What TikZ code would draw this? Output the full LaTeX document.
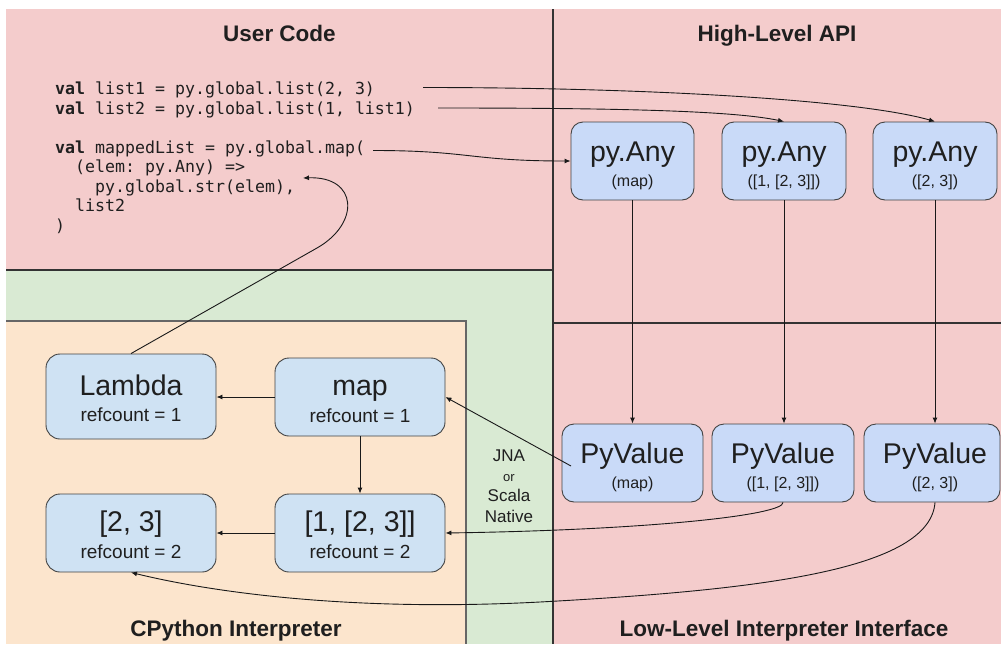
\documentclass[tikz,border=0pt]{standalone}
\usepackage{fontspec}
\setmainfont{Liberation Sans}
\newfontfamily\codefont{DejaVu Sans Mono}
\usetikzlibrary{arrows.meta,calc}
\definecolor{pinkc}{HTML}{F4CCCC}
\definecolor{greenc}{HTML}{D9EAD3}
\definecolor{orangec}{HTML}{FCE5CD}
\definecolor{pyblue}{HTML}{C9DAF8}
\definecolor{cblue}{HTML}{CFE2F3}
\definecolor{boxline}{HTML}{434343}
\definecolor{divline}{HTML}{333333}
\definecolor{txt}{HTML}{1F1F1F}
\tikzset{
  pybox/.style={draw=boxline, fill=pyblue, line width=0.9pt, rounded corners=12pt,
    minimum height=78pt, inner sep=0pt},
  cbox/.style={draw=boxline, fill=cblue, line width=0.9pt, rounded corners=14pt,
    minimum width=170pt, minimum height=78pt, inner sep=0pt},
  bigtxt/.style={anchor=base, inner sep=0pt, text=txt, font=\fontsize{28.5}{30}\selectfont},
  pysub/.style={anchor=base, inner sep=0pt, text=txt, font=\fontsize{16}{18}\selectfont},
  refsub/.style={anchor=base, inner sep=0pt, text=txt, font=\fontsize{19}{21}\selectfont},
  paneltitle/.style={anchor=base, inner sep=0pt, text=txt, font=\fontsize{22.5}{24}\selectfont\bfseries},
  codeline/.style={anchor=base west, inner sep=0pt, text=txt, font=\codefont\frenchspacing\fontsize{16.6}{19.5}\selectfont},
  conn/.style={draw=black!90, line width=0.9pt, -{Latex[length=6pt,width=5pt]}},
  divider/.style={draw=divline, line width=1.1pt},
}
\begin{document}
\begin{tikzpicture}[x=1pt,y=-1pt]
\useasboundingbox (0,0) rectangle (1001,645);
\fill[white] (0,0) rectangle (1001,645);
% panels
\fill[pinkc] (6,9) rectangle (553,270);
\fill[greenc] (6,270) rectangle (553,644);
\fill[orangec] (6,321) rectangle (466,644);
\fill[pinkc] (553,9) rectangle (1001,644);
\draw[divider] (6,270) -- (553,270);
\draw[divider] (553,9) -- (553,644);
\draw[divider] (553,323) -- (1001,323);
\draw[draw=gray!80!black, line width=1.1pt] (6,321) -- (466,321) -- (466,644);

% titles
\node[paneltitle] (tuser) at (279.5,41) {User Code};
\node[paneltitle] (thigh) at (777,41) {High-Level API};
\node[paneltitle] (tcpy) at (236,636) {CPython Interpreter};
\node[paneltitle] (tlow) at (784,636) {Low-Level Interpreter Interface};

% code
\node[codeline] (code1) at (55,94.5) {\textbf{val} list1 = py.global.list(2, 3)};
\node[codeline] (code2) at (55,114) {\textbf{val} list2 = py.global.list(1, list1)};
\node[codeline] (code3) at (55,153) {\textbf{val} mappedList = py.global.map(};
\node[codeline] (code4) at (75,172.5) {(elem: py.Any) =>};
\node[codeline] (code5) at (95,192) {py.global.str(elem),};
\node[codeline] (code6) at (75,211.5) {list2};
\node[codeline] (code7) at (55,231) {)};

% high-level boxes
\node[pybox, minimum width=123pt] (anyA) at (632.5,161) {};
\node[pybox, minimum width=124pt] (anyB) at (784,161) {};
\node[pybox, minimum width=124pt] (anyC) at (935,161) {};
\node[bigtxt] (anyAt) at (anyA.center) {py.Any};
\node[pysub] (anyAs) at ($(anyA.center)+(0,25)$) {(map)};
\node[bigtxt] (anyBt) at (anyB.center) {py.Any};
\node[pysub] (anyBs) at ($(anyB.center)+(0,25)$) {([1, [2, 3]])};
\node[bigtxt] (anyCt) at (anyC.center) {py.Any};
\node[pysub] (anyCs) at ($(anyC.center)+(0,25)$) {([2, 3])};

% low-level boxes
\node[pybox, minimum width=141pt] (pvA) at (632.5,463) {};
\node[pybox, minimum width=142pt] (pvB) at (783,463) {};
\node[pybox, minimum width=136pt] (pvC) at (932,463) {};
\node[bigtxt] (pvAt) at (pvA.center) {PyValue};
\node[pysub] (pvAs) at ($(pvA.center)+(0,25)$) {(map)};
\node[bigtxt] (pvBt) at (pvB.center) {PyValue};
\node[pysub] (pvBs) at ($(pvB.center)+(0,25)$) {([1, [2, 3]])};
\node[bigtxt] (pvCt) at (935,463) {PyValue};
\node[pysub] (pvCs) at (935,488) {([2, 3])};

% CPython boxes
\node[cbox, minimum height=85pt] (lam) at (131,396.5) {};
\node[cbox] (mapn) at (360,397) {};
\node[cbox] (l23) at (131,533) {};
\node[cbox] (l123) at (360,533) {};
\node[bigtxt] (lamt) at ($(lam.center)+(0,-1.5)$) {Lambda};
\node[refsub] (lams) at ($(lam.center)+(0,25)$) {refcount = 1};
\node[bigtxt] (mapt) at ($(mapn.center)+(0,-2)$) {map};
\node[refsub] (maps) at ($(mapn.center)+(0,25)$) {refcount = 1};
\node[bigtxt] (l23t) at ($(l23.center)+(0,-2)$) {[2, 3]};
\node[refsub] (l23s) at ($(l23.center)+(0,25)$) {refcount = 2};
\node[bigtxt] (l123t) at ($(l123.center)+(0,-2)$) {[1, [2, 3]]};
\node[refsub] (l123s) at ($(l123.center)+(0,25)$) {refcount = 2};

% JNA label
\node[text=txt, align=center, inner sep=0pt, font=\fontsize{17}{20.3}\selectfont] (jna) at (509,486)
  {JNA\\{\fontsize{13}{20.3}\selectfont or}\\Scala\\Native};

% connector free ends
\coordinate (c1s) at (423,87.5);
\coordinate (c2s) at (438,108);
\coordinate (c3s) at (373,150.5);
\coordinate (lamtip) at (303,178);
\coordinate (pvAin) at (571,466);

% code -> high level
\draw[conn] (c1s) .. controls (650,87.5) and (860,100) .. (anyC.north);
\draw[conn] (c2s) .. controls (600,108) and (730,110) .. (anyB.north);
\draw[conn] (c3s) .. controls (470,150.5) and (470,161) .. (anyA.west);

% high -> low
\draw[conn] (anyA.south) -- (anyA.south |- pvA.north);
\draw[conn] (anyB.south) -- (anyB.south |- pvB.north);
\draw[conn] (anyC.south) -- (anyC.south |- pvC.north);

% low -> cpython
\draw[conn] (pvAin) -- (mapn.east);
\draw[conn] (pvB.south) .. controls (784,515) and (650,530) .. (l123.east);
\draw[conn] (anyC.south |- pvC.south) .. controls (930,570) and (760,590) .. (540,602)
  .. controls (350,612) and (211,592) .. (l23.south);

% inside cpython
\draw[conn] (mapn.west) -- (lam.east |- mapn.west);
\draw[conn] (mapn.south) -- (l123.north);
\draw[conn] (l123.west) -- (l23.east);

% lambda -> code
\draw[conn] (lam.north) -- (317,248) .. controls (360.5,223.3) and (358,176) .. (lamtip);
\end{tikzpicture}
\end{document}
